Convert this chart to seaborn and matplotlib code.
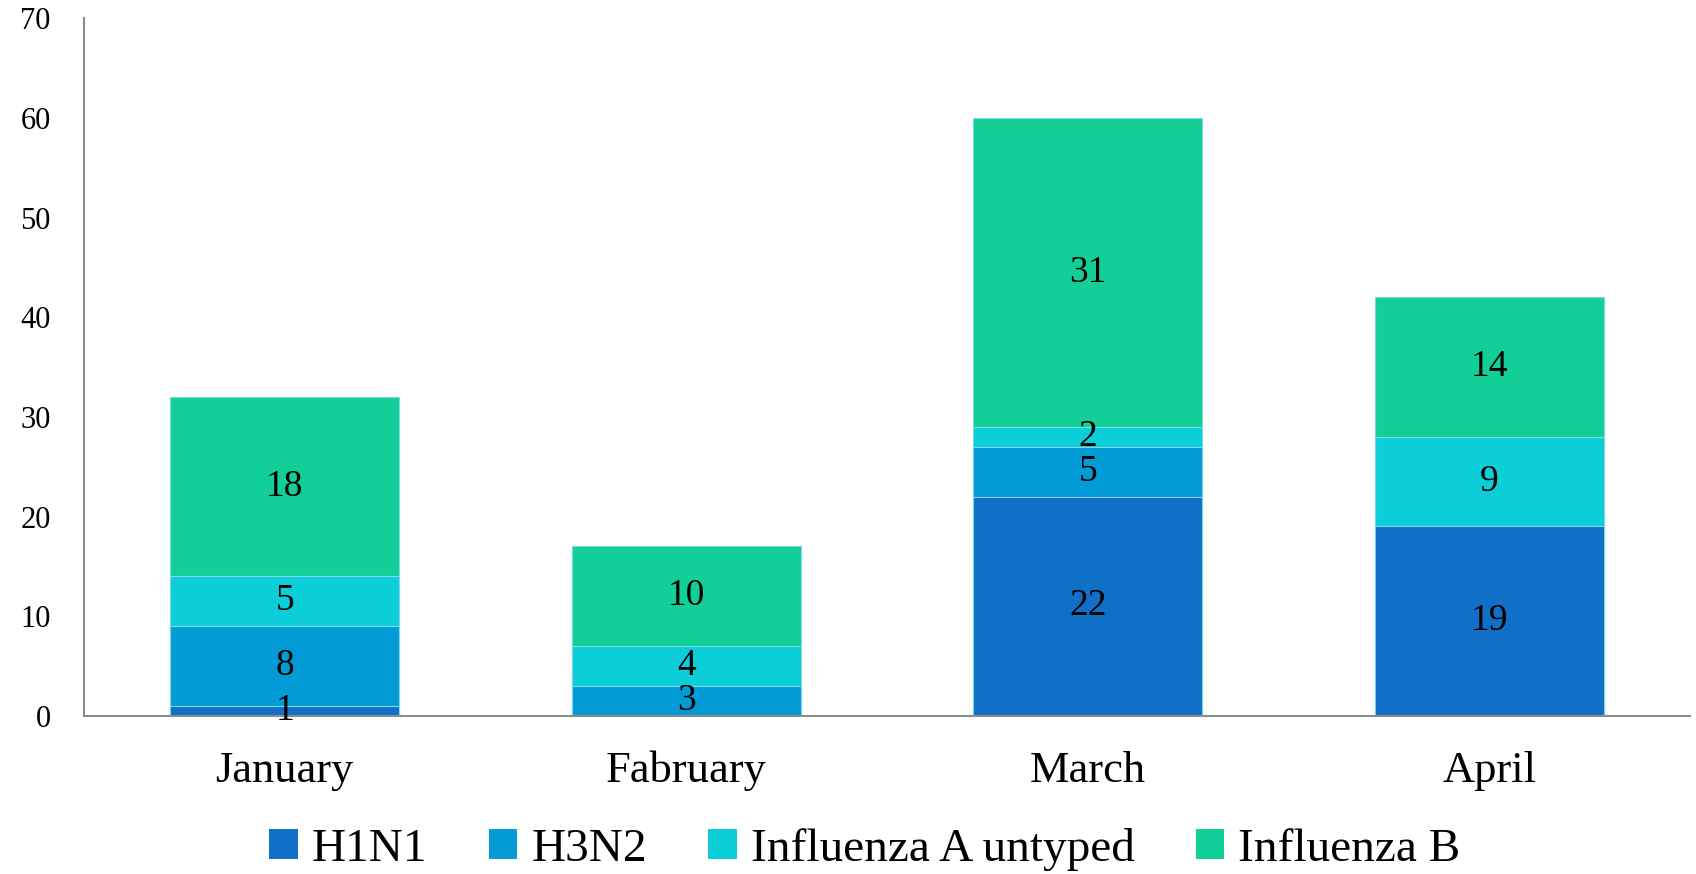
import numpy as np
import pandas as pd
import matplotlib
matplotlib.use("Agg")
import matplotlib.pyplot as plt
from matplotlib.patches import Patch
import seaborn as sns

# --- DATA ---
months = ["January", "Fabruary", "March", "April"]
series = ["H1N1", "H3N2", "Influenza A untyped", "Influenza B"]
h1n1 = [1, 0, 22, 19]
h3n2 = [8, 3, 5, 0]
untyped = [5, 4, 2, 9]
flu_b = [18, 10, 31, 14]

COLORS = ["#106FC7", "#029BD5", "#0BCED8", "#12CF97"]

df = pd.DataFrame({"month": months, "H1N1": h1n1, "H3N2": h3n2,
                   "Influenza A untyped": untyped, "Influenza B": flu_b})
cum = df[series].cumsum(axis=1)

# --- PLOT ---
sns.set_theme(style="white")
plt.rcParams["font.family"] = ["Liberation Serif", "DejaVu Serif"]
plt.rcParams["text.color"] = "black"
plt.rcParams["xtick.color"] = "black"
plt.rcParams["ytick.color"] = "black"

fig = plt.figure(figsize=(16.96, 8.74), dpi=100)
ax = fig.add_axes([0.0495, 0.181, 0.947, 0.798])

# stacked bars: draw cumulative totals from the top segment down
for s, c in reversed(list(zip(series, COLORS))):
    sns.barplot(x=df["month"], y=cum[s], color=c, width=0.57, ax=ax,
                saturation=1, edgecolor="#7fd8e8", linewidth=0.8)

# segment labels
for i in range(len(months)):
    base = 0
    for s in series:
        v = df.loc[i, s]
        if v > 0:
            ax.text(i, base + v / 2, str(v), ha="center", va="center",
                    fontsize=27, color="black")
        base += v

ax.set_ylim(0, 70)
ax.set_xlim(-0.5, 3.5)
ax.set_yticks(range(0, 71, 10))
ax.set_xlabel("")
ax.set_ylabel("")
ax.tick_params(axis="y", labelsize=22, length=0, pad=24, labelcolor="black")
ax.tick_params(axis="x", labelsize=32, length=0, pad=25, labelcolor="black")
for sp in ["top", "right"]:
    ax.spines[sp].set_visible(False)
for sp in ["left", "bottom"]:
    ax.spines[sp].set_color("#8c8c8c")
    ax.spines[sp].set_linewidth(1.5)

handles = [Patch(facecolor=c, edgecolor="none") for c in COLORS]
leg = fig.legend(handles, series, loc="lower center", ncol=4,
                 bbox_to_anchor=(0.51, -0.045), frameon=False, fontsize=34,
                 handlelength=0.6, handleheight=0.6, handletextpad=0.3,
                 columnspacing=1.3)
for t in leg.get_texts():
    t.set_color("black")

plt.savefig("out.png", dpi=100)
plt.close()
